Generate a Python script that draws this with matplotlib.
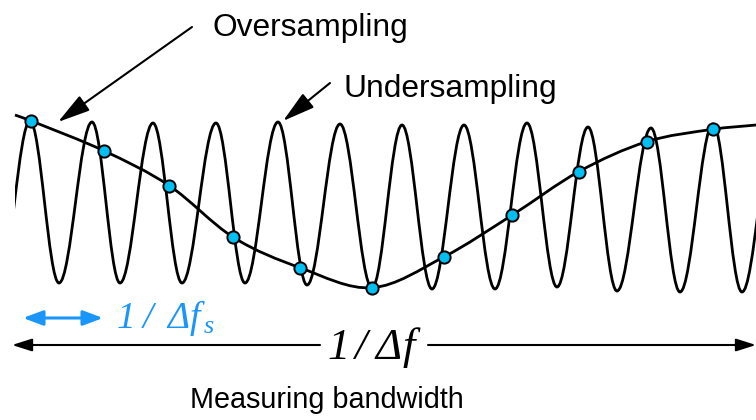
import numpy as np
import matplotlib
matplotlib.use("Agg")
import matplotlib.pyplot as plt
from matplotlib.path import Path
from matplotlib.patches import PathPatch, Rectangle

plt.rcParams['font.family'] = ['Liberation Sans', 'DejaVu Sans']
plt.rcParams['mathtext.fontset'] = 'custom'
plt.rcParams['mathtext.rm'] = 'Liberation Serif:italic'
plt.rcParams['mathtext.it'] = 'Liberation Serif:italic'

# fast signal: positions of the peaks and troughs (picture units)
peak_x = [30, 92, 153, 216, 278, 340, 402, 464, 527, 588, 651, 713, 775]
peak_y = [121, 122, 123, 123, 122, 124, 125, 125, 123, 127, 128, 124, 125]
trough_x = [-1, 59, 120, 182, 245, 307, 372, 432, 495, 557, 617, 680, 742]
trough_y = [283, 283, 283, 283, 283, 285, 288, 289, 289, 287, 291, 292, 292]
wave_start = 15

# slow envelope and the sample dots on it
env_x = [15, 756]
env_y = [115, 125]
dot_x = [30.7, 104.3, 169.3, 233.3, 300, 372.3, 444.3, 512.3, 578.7, 646.7, 712.7]
dot_y = [120.7, 151, 185.7, 237.3, 267.7, 287.7, 256.7, 215, 171.7, 141.7, 129.3]

blue = '#1a96fa'
cyan = '#00bff2'

fig = plt.figure(figsize=(7.56, 4.2), dpi=100)
ax = fig.add_axes([0, 0, 1, 1])
ax.set_xlim(0, 756)
ax.set_ylim(420, 0)
ax.axis('off')

# fast wave as cubic bezier segments between extremes
ext = []
for i in range(len(peak_x)):
    ext.append((trough_x[i], trough_y[i]))
    ext.append((peak_x[i], peak_y[i]))
k = 1 - 2 / np.pi
verts = [ext[0]]
codes = [Path.MOVETO]
for (x0, y0), (x1, y1) in zip(ext[:-1], ext[1:]):
    d = x1 - x0
    verts += [(x0 + k * d, y0), (x1 - k * d, y1), (x1, y1)]
    codes += [Path.CURVE4] * 3
wave = PathPatch(Path(verts, codes), fill=False, lw=2.0, ec='black', zorder=2)
ax.add_patch(wave)
clip = Rectangle((wave_start, 0), 756 - wave_start, 420, transform=ax.transData)
wave.set_clip_path(clip)

# slow envelope through the samples
px = [env_x[0]] + dot_x + [env_x[1]]
py = [env_y[0]] + dot_y + [env_y[1]]
n = len(px)
slope = []
for i in range(n):
    a, b = max(i - 1, 0), min(i + 1, n - 1)
    slope.append((py[b] - py[a]) / (px[b] - px[a]))
verts = [(px[0], py[0])]
codes = [Path.MOVETO]
for i in range(n - 1):
    d = (px[i + 1] - px[i]) / 3
    verts += [(px[i] + d, py[i] + slope[i] * d),
              (px[i + 1] - d, py[i + 1] - slope[i + 1] * d),
              (px[i + 1], py[i + 1])]
    codes += [Path.CURVE4] * 3
ax.add_patch(PathPatch(Path(verts, codes), fill=False, lw=2.0, ec='black', zorder=3))

ax.plot(dot_x, dot_y, 'o', ms=8.8, mfc=cyan, mec='black', mew=1.4, zorder=4)

# labels and pointer arrows
ax.text(212, 36, 'Oversampling', fontsize=22.9, ha='left', va='baseline')
ax.text(344, 97, 'Undersampling', fontsize=22.9, ha='left', va='baseline')
ax.text(326.5, 408, 'Measuring bandwidth', fontsize=20.7, ha='center', va='baseline')

arr = dict(arrowstyle='-|>,head_length=2.0,head_width=0.55', color='black',
           lw=1.5, mutation_scale=10, shrinkA=0, shrinkB=0)
ax.annotate('', xy=(58, 122), xytext=(192, 27), arrowprops=arr)
ax.annotate('', xy=(283, 121), xytext=(330, 83), arrowprops=arr)

# measuring bandwidth arrow
span = dict(arrowstyle='-|>,head_length=1.2,head_width=0.38', color='black',
            lw=1.5, mutation_scale=10, shrinkA=0, shrinkB=0)
ax.annotate('', xy=(12, 345), xytext=(320, 345), arrowprops=span)
ax.annotate('', xy=(756, 345), xytext=(428, 345), arrowprops=span)
ax.text(374, 348, r'$1\,/\;\Delta f$', fontsize=32, ha='center', va='center')

# sample spacing arrow
ax.annotate('', xy=(23, 318), xytext=(103, 318),
            arrowprops=dict(arrowstyle='<|-|>,head_length=1.2,head_width=0.45',
                            color=blue, lw=2.2, mutation_scale=10, shrinkA=0, shrinkB=0))
ax.text(116, 318, r'$1\;/\;\;\Delta f_{\,s}$', fontsize=27, color=blue, ha='left', va='center')

fig.savefig('out.png', dpi=100)
